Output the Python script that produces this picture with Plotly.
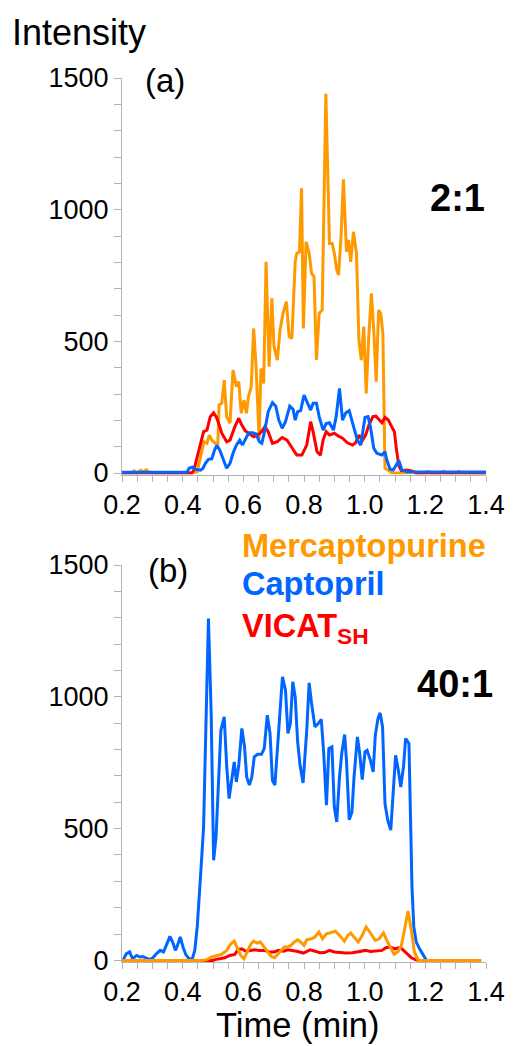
import plotly.graph_objects as go

# ---------------- Panel (a) 2:1 ----------------
a_merc_t = [0.200, 0.230, 0.240, 0.248, 0.262, 0.270, 0.280, 0.290, 0.300, 0.430, 0.448, 0.459, 0.470, 0.480,
            0.488, 0.496, 0.507, 0.516, 0.520, 0.529, 0.537, 0.545, 0.556, 0.566, 0.577, 0.585, 0.593, 0.602,
            0.610, 0.617, 0.626, 0.634, 0.642, 0.652, 0.658, 0.667, 0.675, 0.685, 0.694, 0.701, 0.712, 0.721,
            0.731, 0.742, 0.751, 0.760, 0.771, 0.776, 0.785, 0.792, 0.798, 0.807, 0.817, 0.825, 0.833, 0.841,
            0.850, 0.860, 0.872, 0.884, 0.893, 0.900, 0.908, 0.914, 0.922, 0.930, 0.940, 0.947, 0.954, 0.963,
            0.973, 0.981, 0.989, 0.997, 1.005, 1.013, 1.022, 1.030, 1.038, 1.046, 1.053, 1.060, 1.067, 1.078,
            1.089, 1.150, 1.160, 1.170, 1.200, 1.210, 1.220, 1.250, 1.260, 1.270, 1.300, 1.310, 1.320, 1.400]
a_merc_y = [0, 0, 8, 0, 10, 4, 12, 2, 0, 0, 5, 62, 119, 113,
            144, 125, 113, 113, 258, 265, 353, 214, 189, 391, 328, 347, 227, 277,
            227, 290, 328, 549, 404, 130, 397, 340, 802, 404, 663, 480, 429, 543,
            606, 651, 518, 511, 802, 834, 840, 1081, 549, 878, 834, 758, 746, 429,
            606, 619, 1440, 872, 872, 834, 771, 752, 897, 1115, 840, 885, 802, 916,
            834, 505, 429, 556, 302, 505, 682, 543, 347, 619, 606, 530, 18, 11,
            0, 0, 7, 0, 0, 6, 0, 0, 7, 0, 0, 6, 0, 0]

a_vicat_t = [0.200, 0.430, 0.437, 0.453, 0.469, 0.480, 0.491, 0.502, 0.513, 0.529, 0.545, 0.556, 0.572, 0.585,
             0.595, 0.606, 0.620, 0.634, 0.647, 0.660, 0.671, 0.682, 0.696, 0.712, 0.728, 0.744, 0.760, 0.776,
             0.793, 0.809, 0.822, 0.830, 0.843, 0.854, 0.863, 0.873, 0.884, 0.900, 0.914, 0.927, 0.943, 0.960,
             0.970, 0.981, 0.992, 1.003, 1.014, 1.027, 1.037, 1.048, 1.057, 1.067, 1.078, 1.089, 1.098, 1.105,
             1.113, 1.121, 1.138, 1.154, 1.170, 1.400]
a_vicat_y = [0, 0, 11, 87, 157, 163, 214, 229, 208, 151, 119, 125, 176, 208,
             182, 161, 151, 138, 144, 157, 176, 157, 113, 119, 135, 125, 97, 68,
             68, 106, 195, 157, 81, 68, 125, 157, 144, 151, 140, 132, 115, 106,
             115, 144, 123, 144, 182, 214, 216, 201, 191, 211, 201, 176, 157, 87,
             27, 9, 11, 8, 0, 0]

a_capto_t = [0.200, 0.415, 0.421, 0.432, 0.442, 0.459, 0.467, 0.475, 0.485, 0.496, 0.505, 0.513, 0.523, 0.534,
             0.545, 0.556, 0.566, 0.577, 0.588, 0.597, 0.606, 0.618, 0.631, 0.642, 0.653, 0.661, 0.671, 0.682,
             0.696, 0.707, 0.717, 0.728, 0.739, 0.753, 0.764, 0.771, 0.779, 0.789, 0.800, 0.809, 0.822, 0.830,
             0.841, 0.850, 0.863, 0.873, 0.884, 0.897, 0.906, 0.917, 0.927, 0.938, 0.949, 0.962, 0.976, 0.987,
             1.001, 1.011, 1.019, 1.030, 1.040, 1.057, 1.067, 1.073, 1.084, 1.094, 1.105, 1.113, 1.123, 1.138,
             1.400]
a_capto_y = [3, 3, 18, 22, 14, 11, 18, 37, 52, 54, 87, 106, 85, 49,
             18, 37, 75, 106, 125, 106, 125, 153, 153, 148, 119, 113, 163, 233,
             267, 254, 201, 170, 195, 254, 242, 201, 233, 237, 296, 271, 239, 265,
             265, 214, 163, 188, 191, 163, 214, 321, 201, 229, 237, 182, 125, 106,
             211, 214, 176, 94, 75, 68, 81, 49, 14, 11, 30, 47, 11, 5,
             4]

# ---------------- Panel (b) 40:1 ----------------
b_capto_t = [0.203, 0.214, 0.225, 0.235, 0.248, 0.259, 0.268, 0.279, 0.292, 0.302, 0.313, 0.326, 0.337, 0.348,
             0.358, 0.367, 0.376, 0.383, 0.392, 0.401, 0.410, 0.421, 0.432, 0.440, 0.448, 0.458, 0.469, 0.475,
             0.480, 0.485, 0.494, 0.502, 0.510, 0.518, 0.526, 0.537, 0.545, 0.553, 0.561, 0.570, 0.577, 0.585,
             0.595, 0.604, 0.611, 0.620, 0.628, 0.636, 0.647, 0.660, 0.669, 0.679, 0.688, 0.696, 0.704, 0.714,
             0.723, 0.729, 0.739, 0.747, 0.755, 0.763, 0.771, 0.779, 0.787, 0.797, 0.809, 0.817, 0.825, 0.836,
             0.847, 0.857, 0.865, 0.874, 0.882, 0.892, 0.900, 0.908, 0.917, 0.925, 0.934, 0.940, 0.949, 0.958,
             0.965, 0.976, 0.983, 0.992, 1.001, 1.008, 1.019, 1.028, 1.035, 1.044, 1.051, 1.059, 1.067, 1.076,
             1.086, 1.094, 1.102, 1.111, 1.119, 1.128, 1.135, 1.146, 1.151, 1.156, 1.162, 1.170, 1.181, 1.191,
             1.202]
b_capto_y = [0, 25, 32, 6, 19, 13, 15, 10, 3, 10, 25, 38, 32, 63,
             91, 70, 38, 57, 89, 51, 23, 6, 6, 38, 127, 304, 506, 810,
             1063, 1297, 937, 380, 468, 683, 873, 924, 740, 614, 683, 753, 677, 740,
             880, 810, 696, 665, 696, 772, 782, 782, 804, 930, 861, 683, 665, 835,
             981, 1076, 1025, 861, 899, 1057, 1000, 830, 740, 673, 873, 1053, 975, 886,
             899, 914, 785, 589, 804, 810, 582, 525, 696, 791, 857, 759, 534, 563,
             696, 848, 791, 686, 791, 797, 759, 715, 854, 918, 939, 886, 595, 532,
             494, 658, 778, 721, 658, 734, 842, 823, 532, 278, 127, 70, 44, 25,
             3]

b_vicat_t = [0.200, 0.500, 0.507, 0.523, 0.539, 0.555, 0.572, 0.582, 0.595, 0.609, 0.623, 0.638, 0.652, 0.669,
             0.685, 0.701, 0.717, 0.733, 0.746, 0.760, 0.776, 0.798, 0.820, 0.836, 0.852, 0.868, 0.884, 0.900,
             0.917, 0.938, 0.960, 0.981, 1.003, 1.019, 1.040, 1.057, 1.070, 1.084, 1.100, 1.113, 1.123, 1.137,
             1.154, 1.167, 1.180, 1.337]
b_vicat_y = [0, 0, 3, 6, 10, 19, 23, 40, 44, 35, 38, 40, 38, 38,
             32, 32, 38, 35, 40, 38, 35, 28, 40, 35, 29, 30, 38, 32,
             30, 28, 29, 32, 38, 34, 35, 38, 48, 51, 44, 48, 44, 28,
             10, 3, 0, 0]

b_merc_t = [0.200, 0.464, 0.480, 0.496, 0.512, 0.528, 0.545, 0.559, 0.570, 0.580, 0.591, 0.602, 0.613, 0.625,
            0.634, 0.645, 0.656, 0.669, 0.682, 0.692, 0.703, 0.714, 0.725, 0.735, 0.746, 0.757, 0.768, 0.779,
            0.789, 0.800, 0.809, 0.825, 0.836, 0.849, 0.861, 0.874, 0.884, 0.904, 0.917, 0.933, 0.944, 0.954,
            0.965, 0.979, 0.992, 1.005, 1.019, 1.035, 1.048, 1.062, 1.073, 1.086, 1.097, 1.111, 1.121, 1.132,
            1.143, 1.154, 1.164, 1.177, 1.385]
b_merc_y = [0, 0, 3, 13, 18, 23, 38, 63, 73, 44, 19, 6, 32, 63,
            73, 66, 70, 51, 32, 15, 10, 23, 40, 51, 51, 57, 70, 78,
            70, 57, 78, 82, 89, 108, 82, 101, 104, 111, 95, 73, 95, 104,
            89, 70, 95, 127, 104, 76, 82, 104, 76, 44, 23, 35, 57, 120,
            187, 114, 32, 0, 0]

x_tick_vals = [0.2, 0.4, 0.6, 0.8, 1.0, 1.2, 1.4]
x_tick_text = ["0.2", "0.4", "0.6", "0.8", "1.0", "1.2", "1.4"]
y_tick_vals = [0, 500, 1000, 1500]
y_tick_text = ["0", "500", "1000", "1500"]

ORANGE = "#FF9900"
BLUE = "#0066FF"
RED = "#FF0000"
FONT = "Liberation Sans, Arial, sans-serif"

fig = go.Figure()
LW = 3
# panel (a): orange, red, blue (blue on top)
fig.add_trace(go.Scatter(x=a_merc_t, y=a_merc_y, mode="lines", line=dict(color=ORANGE, width=LW), xaxis="x", yaxis="y"))
fig.add_trace(go.Scatter(x=a_vicat_t, y=a_vicat_y, mode="lines", line=dict(color=RED, width=LW), xaxis="x", yaxis="y"))
fig.add_trace(go.Scatter(x=a_capto_t, y=a_capto_y, mode="lines", line=dict(color=BLUE, width=LW), xaxis="x", yaxis="y"))
# panel (b): blue, red, orange
fig.add_trace(go.Scatter(x=b_capto_t, y=b_capto_y, mode="lines", line=dict(color=BLUE, width=LW), xaxis="x2", yaxis="y2"))
fig.add_trace(go.Scatter(x=b_vicat_t, y=b_vicat_y, mode="lines", line=dict(color=RED, width=LW), xaxis="x2", yaxis="y2"))
fig.add_trace(go.Scatter(x=b_merc_t, y=b_merc_y, mode="lines", line=dict(color=ORANGE, width=LW), xaxis="x2", yaxis="y2"))

AX = "#b4b4b4"
def xaxis(anchor):
    return dict(range=[0.2, 1.4], anchor=anchor, showgrid=False, zeroline=False,
                showline=True, linecolor=AX, linewidth=1,
                ticks="outside", ticklen=6, tickcolor=AX, tickwidth=1,
                tickvals=x_tick_vals, ticktext=x_tick_text,
                minor=dict(dtick=0.05, tick0=0.2, ticks="outside", ticklen=6, tickcolor=AX, showgrid=False),
                tickfont=dict(family=FONT, size=27, color="black"))

def yaxis(anchor, dom):
    return dict(range=[-6, 1500], anchor=anchor, domain=dom, showgrid=False, zeroline=False,
                showline=True, linecolor=AX, linewidth=1,
                ticks="outside", ticklen=7, tickcolor=AX, tickwidth=1,
                tickvals=y_tick_vals, ticktext=y_tick_text,
                minor=dict(dtick=100, tick0=0, ticks="outside", ticklen=7, tickcolor=AX, showgrid=False),
                tickfont=dict(family=FONT, size=27, color="black"))

W, H = 517, 1046
ML, MR, MT, MB = 122, 24, 78, 84
PW, PH = W - ML - MR, H - MT - MB

def px(x):
    return (x - ML) / PW

def py(y):
    return (H - MB - y) / PH

fig.update_layout(
    width=W, height=H,
    margin=dict(l=ML, r=MR, t=MT, b=MB),
    paper_bgcolor="white", plot_bgcolor="white",
    showlegend=False,
    xaxis=xaxis("y"),
    yaxis=yaxis("x", [py(474.6), 1.0]),
    xaxis2=xaxis("y2"),
    yaxis2=yaxis("x2", [0.0, py(565)]),
)

def ann(text, x, y, size, color="black", xanchor="center", bold=False, yanchor="middle"):
    t = f"<b>{text}</b>" if bold else text
    fig.add_annotation(text=t, x=px(x), y=py(y), xref="paper", yref="paper",
                       xanchor=xanchor, yanchor=yanchor, showarrow=False,
                       font=dict(family=FONT, size=size, color=color))

ann("Intensity", 8, 33, 36, xanchor="left")
ann("Time (min)", 301, 1004, 34.5, yanchor="top")
ann("(a)", 166, 81, 33)
ann("(b)", 169, 570, 33)
ann("2:1", 464, 198, 38, bold=True)
ann("40:1", 461, 684, 38, bold=True)
ann("Mercaptopurine", 242, 546, 32.5, color=ORANGE, xanchor="left", bold=True)
ann("Captopril", 242, 584, 32.5, color=BLUE, xanchor="left", bold=True)
ann("VICAT<sub>SH</sub>", 242, 628, 32.5, color=RED, xanchor="left", bold=True)

fig.write_html("out.html", config={"displayModeBar": False},
               post_script="document.body.style.margin='0';document.body.style.overflow='hidden';")
